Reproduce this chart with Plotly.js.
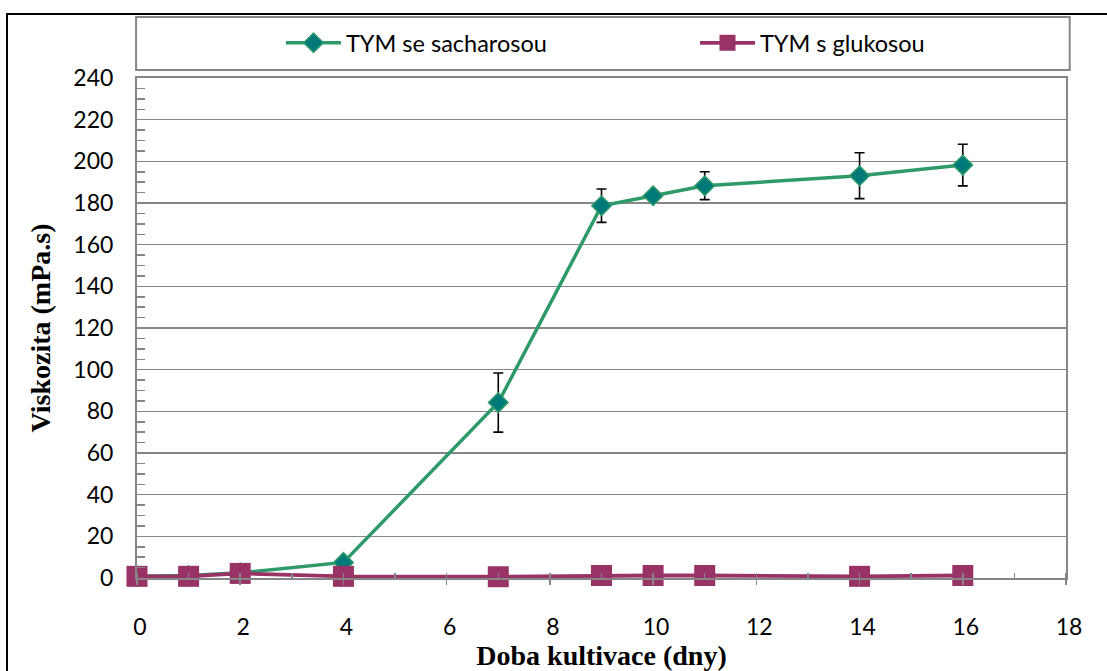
<!DOCTYPE html>
<html><head><meta charset="utf-8">
<script src="https://cdn.plot.ly/plotly-3.0.1.min.js"></script>
<style>
html,body{margin:0;padding:0;overflow:hidden;background:#fff;width:1107px;height:671px}
#frame{position:absolute;left:6px;top:13px;width:1300px;height:900px;border-left:2px solid #000;border-top:2px solid #000;}
#chart{position:absolute;left:0;top:0;width:1107px;height:671px;}
</style></head>
<body><div id="frame"></div><div id="chart"></div>
<script>
const days = [0, 1, 2, 4, 7, 9, 10, 11, 14, 16];
const sacharosaName = 'TYM se sacharosou';
const sacharosa = [0.8, 1.2, 2.5, 7.5, 84.2, 178.7, 183.5, 188.3, 193.1, 198.2];
const sacharosaErr = [0, 0, 0, 0.5, 14.2, 8, 1.5, 6.7, 11, 10];
const glukosaName = 'TYM s glukosou';
const glukosa = [0.8, 0.8, 2.2, 0.8, 0.6, 1.2, 1.2, 1.2, 0.8, 1.2];
const yTitle = 'Viskozita (mPa.s)';
const xTitle = 'Doba kultivace (dny)';

const grey = '#868686';
const tickFont = {family: 'Lato, "Open Sans", sans-serif', size: 23, color: '#000'};
const titleFont = {family: '"Liberation Serif", "Times New Roman", serif', size: 28, color: '#000', weight: 'bold'};

const traces = [
  {
    x: days, y: sacharosa, name: sacharosaName, type: 'scatter', mode: 'lines+markers',
    line: {color: '#2E9A6A', width: 3.5},
    marker: {symbol: 'diamond', size: 15, color: '#007A78', line: {color: '#2E9A6A', width: 1.5}},
    error_y: {type: 'data', array: sacharosaErr, visible: true, color: '#000', thickness: 1.6, width: 5},
    cliponaxis: false
  },
  {
    x: days, y: glukosa, name: glukosaName, type: 'scatter', mode: 'lines+markers',
    line: {color: '#993366', width: 3.8},
    marker: {symbol: 'square', size: 21, color: '#993366'},
    cliponaxis: false
  }
];

const layout = {
  width: 1107, height: 671,
  margin: {l: 137, r: 41, t: 78, b: 93, autoexpand: false},
  paper_bgcolor: 'rgba(0,0,0,0)', plot_bgcolor: '#fff',
  showlegend: true,
  legend: {
    orientation: 'h', x: 0.155, y: 1.07, xanchor: 'left', yanchor: 'middle',
    font: {family: 'Lato, "Open Sans", sans-serif', size: 23.5, color: '#000'},
    entrywidth: 344, entrywidthmode: 'pixels', itemwidth: 55,
    bgcolor: 'rgba(0,0,0,0)', borderwidth: 0
  },
  xaxis: {
    range: [0, 18], dtick: 2, tick0: 0, showgrid: false, zeroline: false,
    showline: true, linecolor: grey, linewidth: 2, mirror: true,
    ticks: 'outside', ticklen: 5, tickcolor: grey, tickwidth: 1.5,
    minor: {dtick: 1, ticks: 'inside', ticklen: 5, tickcolor: grey, tickwidth: 1.5, showgrid: false},
    tickfont: tickFont, ticklabelstandoff: 22, ticklabelshift: 3,
    title: {text: xTitle, font: titleFont, standoff: 18}
  },
  yaxis: {
    range: [0, 240], dtick: 20, tick0: 0, showgrid: true, gridcolor: grey, gridwidth: 1.5,
    zeroline: false, showline: true, linecolor: grey, linewidth: 2, mirror: true,
    ticks: 'inside', ticklen: 8, tickcolor: grey, tickwidth: 1.5,
    minor: {dtick: 5, ticks: 'inside', ticklen: 8, tickcolor: grey, tickwidth: 1.5, showgrid: false},
    tickfont: tickFont, ticklabelstandoff: 17,
    title: {text: yTitle, font: titleFont, standoff: 15}
  },
  shapes: [
    {type: 'rect', xref: 'paper', yref: 'paper', x0: -0.001, x1: 1.004, y0: 1.016, y1: 1.122,
     line: {color: grey, width: 2}, fillcolor: 'rgba(0,0,0,0)', layer: 'below'}
  ]
};

Plotly.newPlot('chart', traces, layout, {displayModeBar: false, staticPlot: true});
</script>
</body></html>
